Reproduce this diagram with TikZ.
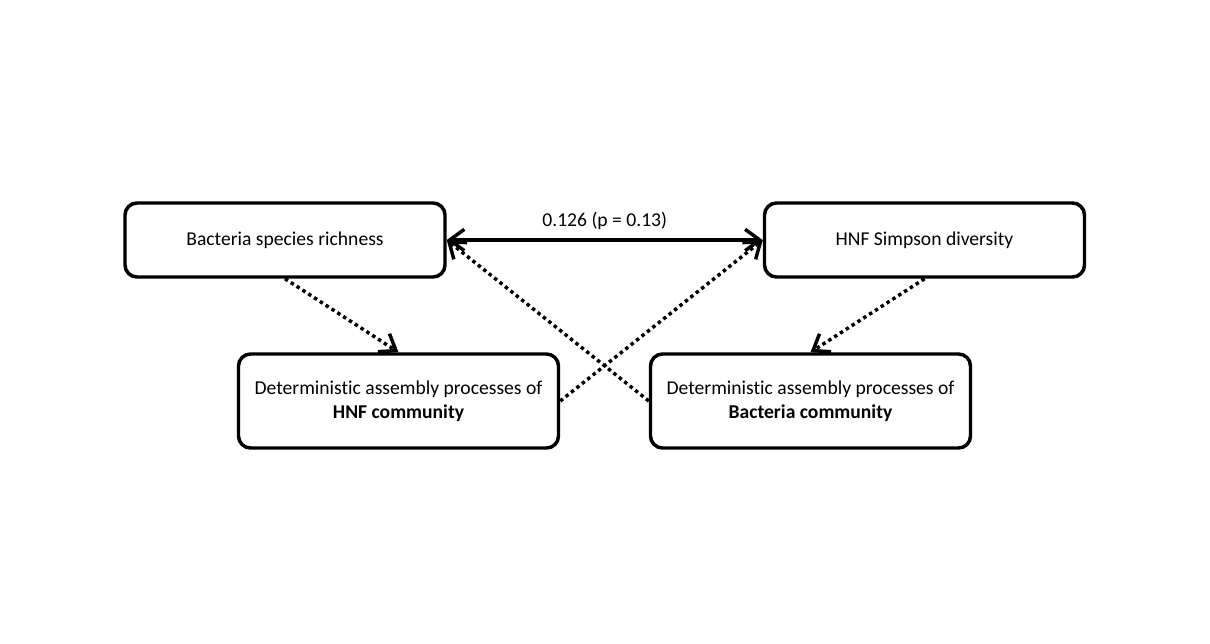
\documentclass[tikz,border=0pt]{standalone}
\usepackage{fontspec}
\setmainfont{Carlito}[Ligatures=NoCommon]
\usetikzlibrary{arrows.meta}
\begin{document}
\begin{tikzpicture}[x=0.75pt,y=-0.75pt,
  box/.style={draw=black, line width=2.6pt, rounded corners=9pt, fill=white,
    minimum width=240pt, align=center, inner sep=0pt,
    font=\fontsize{14.7}{18}\selectfont},
  topbox/.style={box, minimum height=55.5pt},
  lowbox/.style={box, minimum height=70.5pt},
  barb/.tip={Straight Barb[length=11pt,width=16pt,line width=2.6pt]},
  link/.style={line width=2.6pt, -barb},
  dotlink/.style={link, dash pattern=on 2.6pt off 2.6pt},
  lbl/.style={font=\fontsize{14.7}{18}\selectfont}]
\useasboundingbox (0,0) rectangle (1210,643);
\fill[white] (0,0) rectangle (1210,643);

\node[topbox] (rich) at (285,240) {Bacteria species richness};
\node[topbox] (simp) at (924.5,240) {HNF Simpson diversity};
\node[lowbox] (hnfc) at (398.5,401) {Deterministic assembly processes of\\\textbf{HNF community}};
\node[lowbox] (bacc) at (810.5,401) {Deterministic assembly processes of\\\textbf{Bacteria community}};

% correlation between the two diversity measures
\draw[link, barb-barb] (rich.east) -- (simp.west)
  node[lbl, midway, above=3pt] {0.126 (p = 0.13)};

% dotted paths
\draw[dotlink] (rich.south) -- (hnfc.north);
\draw[dotlink] (simp.south) -- (bacc.north);
\draw[dotlink] (hnfc.east) -- (simp.west);
\draw[dotlink] (bacc.west) -- (rich.east);
\end{tikzpicture}
\end{document}
